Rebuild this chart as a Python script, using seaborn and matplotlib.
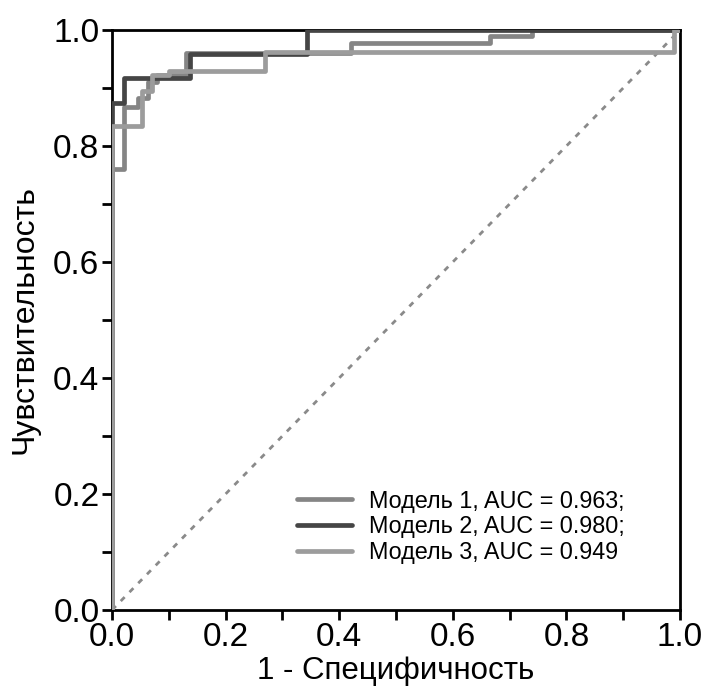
import matplotlib
matplotlib.use("Agg")
import matplotlib.pyplot as plt
import seaborn as sns
import numpy as np
from matplotlib.ticker import MultipleLocator

sns.set_style("white")
plt.rcParams['font.family'] = ['Liberation Sans', 'DejaVu Sans']
plt.rcParams['text.color'] = 'black'
plt.rcParams['axes.labelcolor'] = 'black'
plt.rcParams['xtick.color'] = 'black'
plt.rcParams['ytick.color'] = 'black'

labels = ["Модель 1, AUC = 0.963;", "Модель 2, AUC = 0.980;", "Модель 3, AUC = 0.949"]
colors = ["#858585", "#454545", "#9c9c9c"]

fpr1 = [0, 0, 0.021, 0.021, 0.045, 0.045, 0.063, 0.063, 0.08, 0.08, 0.13, 0.13, 0.42, 0.42, 0.665, 0.665, 0.74, 0.74, 1.0]
tpr1 = [0, 0.76, 0.76, 0.867, 0.867, 0.883, 0.883, 0.91, 0.91, 0.922, 0.922, 0.96, 0.96, 0.977, 0.977, 0.99, 0.99, 1.0, 1.0]

fpr2 = [0, 0, 0.021, 0.021, 0.137, 0.137, 0.343, 0.343, 1.0]
tpr2 = [0, 0.875, 0.875, 0.917, 0.917, 0.958, 0.958, 1.0, 1.0]

fpr3 = [0, 0, 0.053, 0.053, 0.07, 0.07, 0.1, 0.1, 0.27, 0.27, 0.99, 0.99, 1.0]
tpr3 = [0, 0.834, 0.834, 0.895, 0.895, 0.922, 0.922, 0.929, 0.929, 0.962, 0.962, 1.0, 1.0]

tick_vals = [0.0, 0.2, 0.4, 0.6, 0.8, 1.0]
tick_labels = ["0.0", "0.2", "0.4", "0.6", "0.8", "1.0"]

fig = plt.figure(figsize=(7.05, 6.91), dpi=100)
ax = fig.add_axes([112/705, 81/691, 568/705, 580/691])

ax.plot([0, 1], [0, 1], ls=(0, (2, 2.5)), color="#8a8a8a", lw=2, zorder=1)

for fx, ty, lab, col in [(fpr1, tpr1, labels[0], colors[0]),
                         (fpr2, tpr2, labels[1], colors[1]),
                         (fpr3, tpr3, labels[2], colors[2])]:
    sns.lineplot(x=fx, y=ty, sort=False, estimator=None, color=col, lw=3.4,
                 label=lab, ax=ax, zorder=3)

ax.set_xlim(0, 1)
ax.set_ylim(0, 1)
ax.set_xticks(tick_vals)
ax.set_yticks(tick_vals)
ax.set_xticklabels(tick_labels)
ax.set_yticklabels(tick_labels)
ax.xaxis.set_minor_locator(MultipleLocator(0.1))
ax.yaxis.set_minor_locator(MultipleLocator(0.1))
ax.tick_params(which="both", direction="out", length=7, width=2, color="black",
               bottom=True, left=True, top=False, right=False)
ax.tick_params(which="major", labelsize=24, pad=2)

for sp in ax.spines.values():
    sp.set_visible(True)
    sp.set_color("black")
    sp.set_linewidth(2)

ax.set_xlabel("1 - Специфичность", fontsize=22.5, labelpad=2)
ax.set_ylabel("Чувствительность", fontsize=23, labelpad=10)

leg = ax.legend(loc="lower left", bbox_to_anchor=(0.31, 0.063), frameon=False,
                fontsize=16.8, handlelength=2.35, handletextpad=0.7, labelspacing=0.12,
                borderaxespad=0)
for h in leg.get_lines():
    h.set_linewidth(3.4)

fig.savefig("out.png", dpi=100)
